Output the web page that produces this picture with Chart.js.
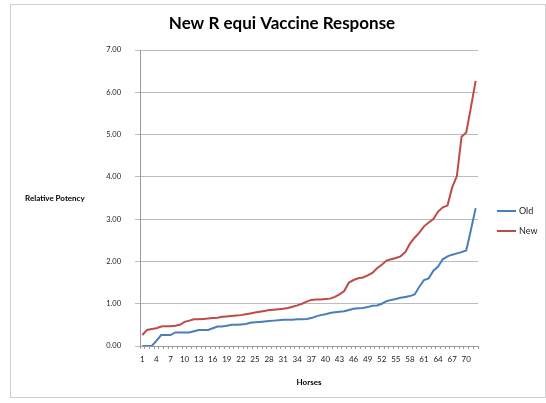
<!DOCTYPE html>
<html>
<head>
<meta charset="utf-8">
<script src="https://cdn.jsdelivr.net/npm/chart.js@4"></script>
<style>
  html, body { margin: 0; padding: 0; background: #fff; }
  #wrap { width: 546px; height: 403px; }
</style>
</head>
<body>
<div id="wrap"><canvas id="vaccineChart" width="546" height="403"></canvas></div>
<script>
// horses 1..72, sorted responses
const horses = Array.from({ length: 72 }, (_, i) => String(i + 1));
const oldValues = [
    0, 0, 0, 0.12, 0.26, 0.26, 0.26, 0.32, 0.32, 0.32,
    0.32, 0.35, 0.38, 0.38, 0.38, 0.42, 0.46, 0.46, 0.48, 0.50,
    0.50, 0.51, 0.52, 0.55, 0.56, 0.57, 0.58, 0.59, 0.60, 0.61,
    0.62, 0.62, 0.62, 0.63, 0.63, 0.64, 0.66, 0.70, 0.73, 0.75,
    0.78, 0.80, 0.81, 0.82, 0.85, 0.88, 0.89, 0.90, 0.92, 0.95,
    0.96, 1.00, 1.06, 1.09, 1.11, 1.14, 1.16, 1.18, 1.22, 1.40,
    1.56, 1.60, 1.78, 1.88, 2.05, 2.12, 2.16, 2.19, 2.22, 2.26,
    2.75, 3.26
];
const newValues = [
    0.26, 0.38, 0.40, 0.42, 0.46, 0.47, 0.47, 0.48, 0.50, 0.57,
    0.60, 0.63, 0.63, 0.64, 0.65, 0.66, 0.67, 0.69, 0.70, 0.71,
    0.72, 0.73, 0.75, 0.77, 0.79, 0.81, 0.83, 0.85, 0.86, 0.87,
    0.88, 0.90, 0.93, 0.96, 1.00, 1.05, 1.09, 1.10, 1.10, 1.11,
    1.12, 1.16, 1.22, 1.30, 1.50, 1.56, 1.60, 1.62, 1.67, 1.73,
    1.84, 1.92, 2.02, 2.05, 2.08, 2.12, 2.22, 2.42, 2.56, 2.68,
    2.83, 2.92, 3.00, 3.18, 3.28, 3.32, 3.75, 4.02, 4.95, 5.05,
    5.65, 6.27
];
const yTicks = [0, 1, 2, 3, 4, 5, 6, 7];

const FONT = 'Lato, "Open Sans", sans-serif';

// frame, title, axis titles and legend drawn by hand (Excel style)
const decor = {
    id: 'decor',
    beforeDraw(chart) {
        const c = chart.ctx;
        c.save();
        c.fillStyle = '#fff';
        c.fillRect(0, 0, chart.width, chart.height);
        c.strokeStyle = '#d0d0d0';
        c.lineWidth = 1;
        c.strokeRect(10.5, 4.5, 535, 393);
        c.restore();
    },
    afterDraw(chart) {
        const c = chart.ctx;
        const a = chart.chartArea;
        c.save();
        c.fillStyle = '#000';
        c.textBaseline = 'middle';
        c.font = 'bold 17px ' + FONT;
        c.textAlign = 'center';
        c.fillText('New R equi Vaccine Response', 282, 24);

        c.font = 'bold 8px ' + FONT;
        c.fillText('Horses', (a.left + a.right) / 2, 382);
        c.textAlign = 'left';
        c.fillText('Relative Potency', 25, 198);

        const items = chart.data.datasets;
        c.font = '9px ' + FONT;
        items.forEach((ds, i) => {
            const y = 211 + i * 20;
            c.strokeStyle = ds.borderColor;
            c.lineWidth = 2;
            c.beginPath();
            c.moveTo(497, y);
            c.lineTo(516, y);
            c.stroke();
            c.fillStyle = '#222';
            c.fillText(ds.label, 519, y);
        });
        c.restore();
    }
};

const ctx = document.getElementById('vaccineChart').getContext('2d');
new Chart(ctx, {
    type: 'line',
    data: {
        labels: horses,
        datasets: [{
            label: 'Old',
            data: oldValues,
            borderColor: '#4a7ebb',
            backgroundColor: '#4a7ebb',
            borderWidth: 2,
            pointRadius: 0,
            tension: 0
        }, {
            label: 'New',
            data: newValues,
            borderColor: '#be4b48',
            backgroundColor: '#be4b48',
            borderWidth: 2,
            pointRadius: 0,
            tension: 0
        }]
    },
    options: {
        responsive: false,
        animation: false,
        layout: { padding: { left: 100, right: 68, top: 50, bottom: 5 } },
        plugins: {
            legend: { display: false },
            title: { display: false },
            tooltip: { enabled: false }
        },
        scales: {
            x: {
                offset: true,
                afterFit: s => { s.height = 52; },
                grid: {
                    offset: true,
                    drawOnChartArea: false,
                    drawTicks: true,
                    tickLength: 3,
                    color: '#999'
                },
                border: { color: '#999' },
                ticks: {
                    autoSkip: false,
                    maxRotation: 0,
                    padding: 6,
                    color: '#222',
                    font: { family: FONT, size: 8 },
                    callback: (v, i) => (i % 3 === 0 ? horses[i] : '')
                }
            },
            y: {
                min: yTicks[0],
                max: yTicks[yTicks.length - 1],
                afterFit: s => { s.width = 40; },
                grid: { color: '#bcbcbc', tickLength: 5, lineWidth: 1 },
                border: { color: '#999' },
                ticks: {
                    stepSize: 1,
                    padding: 14,
                    color: '#222',
                    font: { family: FONT, size: 7.5 },
                    callback: v => v.toFixed(2)
                }
            }
        }
    },
    plugins: [decor]
});
</script>
</body>
</html>
